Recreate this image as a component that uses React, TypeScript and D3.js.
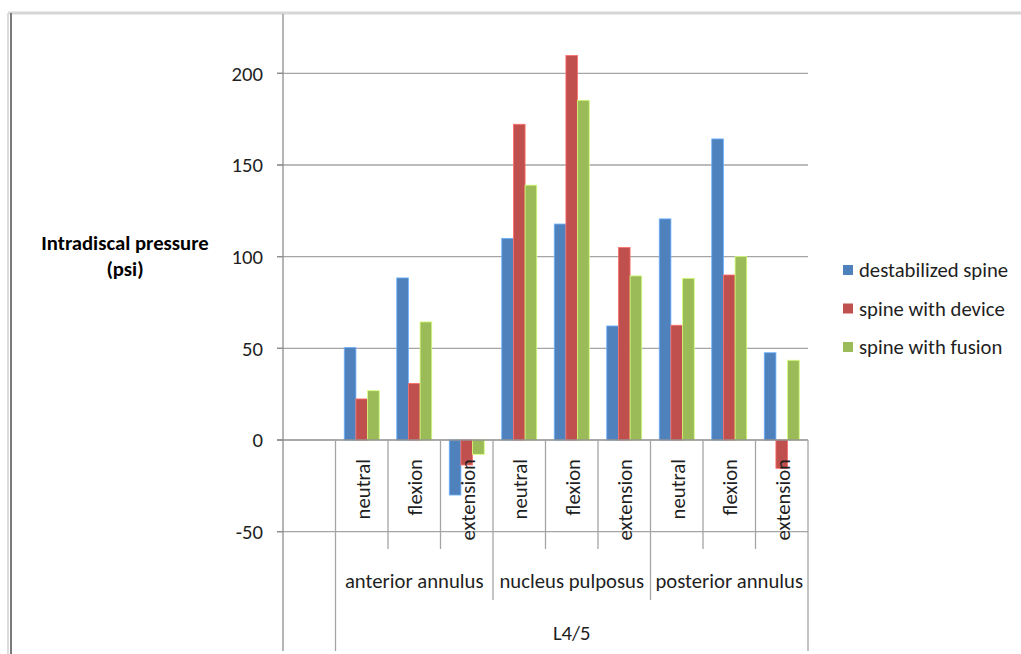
import React from "react";
import * as d3 from "d3";

// Spinal segment, disc regions and loading positions
const segment = "L4/5";
const regions = ["anterior annulus", "nucleus pulposus", "posterior annulus"];
const positions = ["neutral", "flexion", "extension"];

// Intradiscal pressure (psi), one value per region × position
const destabilizedSpine = [50.4, 88.4, -30, 110, 117.8, 62.2, 120.6, 164.2, 47.6];
const spineWithDevice = [22.4, 30.9, -13.6, 172.2, 209.7, 105, 62.6, 90, -15.4];
const spineWithFusion = [26.9, 64.4, -7.8, 139, 185.3, 89.5, 88.2, 100, 43.5];

const seriesNames = ["destabilized spine", "spine with device", "spine with fusion"];
const seriesColors = ["#4F81BD", "#C0504D", "#9BBB59"];
const yTicks = [-50, 0, 50, 100, 150, 200];

const W = 1021;
const H = 654;
const FONT = "Carlito, Calibri, Lato, sans-serif";
const FS = 20.7;

export default function App() {
  const series = [destabilizedSpine, spineWithDevice, spineWithFusion];

  // Category slots: one empty slot precedes the nine region/position pairs
  const cats = ["_blank", ...regions.flatMap((r) => positions.map((p) => `${r}|${p}`))];

  const frameTop = 13;
  const bottom = 651;

  const y = d3.scaleLinear().domain([-50, 200]).range([531.7, 73.3]);
  const x = d3.scaleBand<string>().domain(cats).range([283, 808]).paddingInner(0).paddingOuter(0);
  const bw = x.bandwidth();
  // bar width = bw / 4.5, gap width 150% split on both sides
  const gap = (bw / 4.5) * 0.75;
  const inner = d3.scaleBand<number>().domain([0, 1, 2]).range([gap, bw - gap]).padding(0);

  const y0 = y(0);
  const xLeft = x.range()[0];
  const xRight = x.range()[1];
  const edge = (i: number) => xLeft + i * bw;

  const gridColor = "#a5a5a5";
  const axisColor = "#8e8e8e";
  const textColor = "#1f1f1f";

  // Boundary lines below the axis
  const boundaries: { x: number; y2: number }[] = [];
  for (let i = 1; i <= cats.length; i++) {
    let y2 = 549;
    if (i === 1 || i === cats.length) y2 = bottom;
    else if ((i - 1) % 3 === 0) y2 = 600;
    boundaries.push({ x: edge(i), y2 });
  }

  const legendY = [270, 308.5, 347];

  return (
    <svg
      width={W}
      height={H}
      style={{ position: "absolute", left: 0, top: 0, background: "#fff" }}
      fontFamily={FONT}
    >
      <rect width={W} height={H} fill="#fff" />

      {/* outer frame */}
      <line x1={8} x2={W} y1={frameTop} y2={frameTop} stroke="#d6d6d6" strokeWidth={3} />
      <line x1={8} x2={8} y1={frameTop} y2={H} stroke="#dcdcdc" strokeWidth={2} />
      <line x1={11} x2={11} y1={frameTop} y2={H} stroke="#7a7a7a" strokeWidth={2} />

      {/* horizontal gridlines */}
      {yTicks
        .filter((t) => t !== 0)
        .map((t) => (
          <line key={t} x1={277} x2={xRight} y1={y(t)} y2={y(t)} stroke={gridColor} strokeWidth={1.3} />
        ))}

      {/* bars */}
      {series.map((vals, s) =>
        vals.map((v, i) => {
          const cx = x(cats[i + 1])! + inner(s)!;
          const top = Math.min(y(v), y0);
          const h = Math.abs(y(v) - y0);
          const c = d3.color(seriesColors[s])!.brighter(0.9).formatHex();
          return (
            <rect
              key={`${s}-${i}`}
              x={cx}
              y={top}
              width={inner.bandwidth()}
              height={h}
              fill={seriesColors[s]}
              stroke={c}
              strokeWidth={0.8}
            />
          );
        })
      )}

      {/* zero line and y axis */}
      <line x1={277} x2={xRight} y1={y0} y2={y0} stroke={axisColor} strokeWidth={1.3} />
      <line x1={xLeft} x2={xLeft} y1={frameTop + 1} y2={bottom} stroke={axisColor} strokeWidth={1.3} />
      {yTicks.map((t) => (
        <line key={`tk${t}`} x1={277} x2={xLeft} y1={y(t)} y2={y(t)} stroke={axisColor} strokeWidth={1.3} />
      ))}

      {/* category boundaries */}
      {boundaries.map((b, i) => (
        <line key={`b${i}`} x1={b.x} x2={b.x} y1={y0} y2={b.y2} stroke={gridColor} strokeWidth={1.3} />
      ))}

      {/* y tick labels */}
      {yTicks.map((t) => (
        <text
          key={`tl${t}`}
          x={263}
          y={y(t)}
          dy="0.35em"
          textAnchor="end"
          fontSize={FS}
          fill={textColor}
        >
          {t}
        </text>
      ))}

      {/* y axis title */}
      <text x={125} y={250} textAnchor="middle" fontSize={FS} fontWeight="bold" fill="#000">
        Intradiscal pressure
      </text>
      <text x={125} y={276} textAnchor="middle" fontSize={FS} fontWeight="bold" fill="#000">
        (psi)
      </text>

      {/* position labels (rotated) */}
      {cats.slice(1).map((c) => {
        const cx = x(c)! + bw / 2 + 8;
        const label = c.split("|")[1];
        return (
          <text
            key={`pl${c}`}
            transform={`translate(${cx},459) rotate(-90)`}
            textAnchor="end"
            fontSize={FS}
            fill={textColor}
          >
            {label}
          </text>
        );
      })}

      {/* region labels */}
      {regions.map((r, i) => (
        <text
          key={`rl${r}`}
          x={(edge(1 + i * 3) + edge(4 + i * 3)) / 2}
          y={588}
          textAnchor="middle"
          fontSize={FS}
          fill={textColor}
        >
          {r}
        </text>
      ))}

      {/* segment label */}
      <text x={(edge(1) + edge(10)) / 2} y={640} textAnchor="middle" fontSize={FS} fill={textColor}>
        {segment}
      </text>

      {/* legend */}
      {seriesNames.map((n, i) => (
        <g key={n}>
          <rect x={843} y={legendY[i] - 5} width={10} height={10} fill={seriesColors[i]} />
          <text x={859} y={legendY[i]} dy="0.35em" fontSize={FS} fill={textColor}>
            {n}
          </text>
        </g>
      ))}
    </svg>
  );
}
